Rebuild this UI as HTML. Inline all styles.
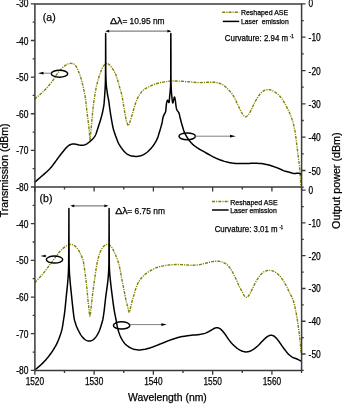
<!DOCTYPE html>
<html><head><meta charset="utf-8"><style>
html,body{margin:0;padding:0;background:#fff;}
body{width:342px;height:404px;overflow:hidden;font-family:"Liberation Sans",sans-serif;}
svg{display:block;will-change:transform;}
</style></head><body>
<svg width="342" height="404" viewBox="0 0 342 404">
<rect width="342" height="404" fill="#fff"/>
<g fill="none" stroke-linejoin="round">
<path d="M34.70 99.00L36.05 97.85L37.41 96.73L38.76 95.61L40.12 94.46L41.46 93.27L42.80 92.00L44.29 90.50L45.81 88.91L47.32 87.26L48.80 85.58L50.20 83.92L51.50 82.30L52.52 80.92L53.47 79.52L54.36 78.14L55.23 76.77L56.10 75.46L57.00 74.20L57.83 73.12L58.66 72.07L59.50 71.05L60.34 70.07L61.17 69.15L62.00 68.30L62.66 67.65L63.31 67.04L63.96 66.46L64.62 65.93L65.29 65.44L66.00 65.00L66.71 64.61L67.46 64.25L68.22 63.93L68.99 63.67L69.75 63.49L70.50 63.40L71.19 63.39L71.88 63.43L72.56 63.53L73.24 63.72L73.88 64.00L74.50 64.40L75.36 65.29L76.17 66.51L76.93 67.94L77.64 69.48L78.30 71.00L78.90 72.40L79.37 73.51L79.79 74.59L80.17 75.66L80.52 76.74L80.86 77.85L81.20 79.00L81.58 80.34L81.95 81.73L82.30 83.14L82.64 84.58L82.97 86.04L83.30 87.50L83.64 89.03L83.98 90.57L84.30 92.13L84.62 93.71L84.92 95.33L85.20 97.00L85.49 98.99L85.76 101.08L86.00 103.21L86.23 105.35L86.46 107.46L86.70 109.50L86.92 111.31L87.14 113.08L87.36 114.82L87.57 116.55L87.79 118.28L88.00 120.00L88.21 121.68L88.42 123.35L88.63 125.02L88.83 126.68L89.02 128.34L89.20 130.00L89.35 131.86L89.49 134.00L89.62 136.13L89.74 137.99L89.87 139.30L90.00 139.80L90.13 139.42L90.26 138.42L90.39 136.98L90.52 135.30L90.66 133.58L90.80 132.00L90.97 130.16L91.15 128.23L91.33 126.22L91.51 124.16L91.70 122.08L91.90 120.00L92.12 117.72L92.33 115.37L92.56 113.00L92.79 110.62L93.04 108.28L93.30 106.00L93.55 103.94L93.81 101.93L94.08 99.94L94.36 97.96L94.67 95.99L95.00 94.00L95.36 91.98L95.74 89.94L96.15 87.90L96.57 85.88L97.02 83.91L97.50 82.00L97.95 80.32L98.43 78.67L98.92 77.05L99.43 75.47L99.96 73.95L100.50 72.50L100.96 71.30L101.42 70.10L101.89 68.95L102.39 67.86L102.92 66.87L103.50 66.00L103.99 65.38L104.51 64.77L105.06 64.22L105.61 63.77L106.17 63.45L106.70 63.30L107.14 63.33L107.58 63.50L108.02 63.76L108.45 64.08L108.88 64.44L109.30 64.80L109.82 65.28L110.33 65.82L110.83 66.42L111.33 67.06L111.82 67.72L112.30 68.40L112.85 69.19L113.40 70.02L113.94 70.88L114.46 71.77L114.95 72.68L115.40 73.60L115.82 74.58L116.19 75.59L116.53 76.61L116.85 77.66L117.17 78.73L117.50 79.80L117.86 80.98L118.21 82.19L118.56 83.41L118.91 84.64L119.25 85.88L119.60 87.10L119.96 88.32L120.33 89.54L120.70 90.77L121.06 91.99L121.40 93.20L121.70 94.40L121.95 95.51L122.16 96.62L122.36 97.71L122.54 98.81L122.72 99.90L122.90 101.00L123.08 102.10L123.24 103.21L123.40 104.32L123.56 105.43L123.73 106.52L123.90 107.60L124.08 108.61L124.26 109.61L124.45 110.60L124.64 111.58L124.82 112.55L125.00 113.50L125.15 114.36L125.30 115.21L125.44 116.05L125.58 116.88L125.73 117.70L125.90 118.50L126.06 119.25L126.23 120.00L126.40 120.74L126.59 121.46L126.78 122.15L127.00 122.80L127.20 123.37L127.41 123.99L127.62 124.60L127.85 125.11L128.08 125.47L128.30 125.60L128.55 125.44L128.80 125.00L129.05 124.38L129.30 123.65L129.55 122.90L129.80 122.20L130.10 121.37L130.40 120.49L130.69 119.58L130.99 118.62L131.29 117.63L131.60 116.60L132.02 115.20L132.45 113.68L132.90 112.10L133.35 110.52L133.78 109.00L134.20 107.60L134.51 106.58L134.80 105.61L135.09 104.68L135.38 103.77L135.68 102.88L136.00 102.00L136.30 101.19L136.59 100.41L136.89 99.65L137.21 98.88L137.58 98.10L138.00 97.30L138.60 96.24L139.27 95.13L140.00 93.99L140.79 92.88L141.63 91.84L142.50 90.90L143.37 90.12L144.28 89.41L145.23 88.76L146.22 88.15L147.25 87.57L148.30 87.00L149.51 86.38L150.79 85.79L152.11 85.23L153.43 84.71L154.74 84.23L156.00 83.80L157.04 83.48L158.04 83.19L159.03 82.95L160.02 82.72L161.04 82.51L162.10 82.30L163.35 82.07L164.64 81.85L165.96 81.65L167.31 81.47L168.65 81.32L170.00 81.20L171.37 81.11L172.73 81.06L174.10 81.04L175.49 81.04L176.92 81.06L178.40 81.10L180.24 81.18L182.19 81.29L184.18 81.44L186.18 81.60L188.14 81.75L190.00 81.90L191.54 82.03L193.02 82.17L194.48 82.31L195.91 82.44L197.35 82.54L198.80 82.60L200.25 82.60L201.70 82.56L203.15 82.48L204.60 82.40L206.05 82.33L207.50 82.30L208.98 82.28L210.49 82.24L212.00 82.22L213.49 82.24L214.93 82.32L216.30 82.50L217.43 82.73L218.52 83.00L219.58 83.33L220.60 83.70L221.57 84.13L222.50 84.60L223.29 85.08L224.02 85.59L224.71 86.15L225.39 86.75L226.08 87.40L226.80 88.10L227.80 89.08L228.84 90.15L229.89 91.29L230.94 92.50L231.95 93.77L232.90 95.10L233.89 96.71L234.81 98.45L235.69 100.27L236.54 102.10L237.37 103.90L238.20 105.60L238.91 107.04L239.60 108.50L240.27 109.92L240.94 111.27L241.62 112.51L242.30 113.60L242.78 114.31L243.25 115.01L243.73 115.66L244.21 116.21L244.70 116.60L245.20 116.80L245.63 116.79L246.07 116.63L246.52 116.37L246.96 116.04L247.39 115.67L247.80 115.30L248.25 114.83L248.67 114.30L249.06 113.71L249.45 113.07L249.86 112.36L250.30 111.60L251.08 110.14L251.90 108.41L252.76 106.53L253.66 104.60L254.57 102.72L255.50 101.00L256.35 99.56L257.22 98.12L258.11 96.72L259.01 95.41L259.91 94.22L260.80 93.20L261.42 92.58L262.03 92.03L262.64 91.54L263.25 91.10L263.87 90.72L264.50 90.40L265.04 90.17L265.58 89.97L266.13 89.82L266.68 89.71L267.24 89.63L267.80 89.60L268.41 89.61L269.03 89.68L269.66 89.79L270.29 89.93L270.90 90.11L271.50 90.30L272.07 90.52L272.63 90.76L273.17 91.04L273.71 91.34L274.25 91.66L274.80 92.00L275.42 92.40L276.05 92.83L276.68 93.28L277.30 93.76L277.91 94.27L278.50 94.80L279.11 95.40L279.70 96.02L280.28 96.67L280.85 97.37L281.42 98.11L282.00 98.90L282.76 100.04L283.54 101.31L284.31 102.65L285.07 104.03L285.80 105.39L286.50 106.70L287.10 107.83L287.68 108.94L288.24 110.03L288.77 111.13L289.29 112.25L289.80 113.40L290.31 114.65L290.81 115.92L291.29 117.22L291.74 118.53L292.18 119.86L292.60 121.20L293.02 122.60L293.41 124.01L293.78 125.42L294.14 126.88L294.48 128.40L294.80 130.00L295.17 132.15L295.51 134.44L295.82 136.83L296.12 139.26L296.41 141.66L296.70 144.00L296.98 146.19L297.26 148.39L297.53 150.58L297.80 152.73L298.05 154.81L298.30 156.80L298.50 158.38L298.69 159.89L298.88 161.35L299.06 162.79L299.24 164.23L299.40 165.70L299.55 167.19L299.70 168.70L299.84 170.20L299.96 171.69L300.09 173.16L300.20 174.60L300.30 175.89L300.39 177.18L300.47 178.46L300.55 179.69L300.63 180.88L300.70 182.00L300.75 182.81L300.81 183.58L300.85 184.32L300.90 185.04L300.95 185.76L301.00 186.50" stroke="#808000" stroke-width="1.4" stroke-dasharray="3 1.1 1.1 1.1"/>
<path d="M34.70 282.60L36.05 281.17L37.41 279.76L38.76 278.35L40.11 276.92L41.46 275.44L42.80 273.90L44.30 272.07L45.82 270.11L47.34 268.10L48.82 266.11L50.22 264.22L51.50 262.50L52.34 261.37L53.11 260.31L53.85 259.31L54.56 258.33L55.27 257.37L56.00 256.40L56.72 255.46L57.43 254.51L58.15 253.58L58.86 252.67L59.58 251.81L60.30 251.00L60.91 250.36L61.53 249.75L62.15 249.17L62.76 248.62L63.38 248.10L64.00 247.60L64.54 247.17L65.08 246.76L65.61 246.38L66.16 246.02L66.72 245.69L67.30 245.40L67.92 245.13L68.57 244.88L69.23 244.66L69.90 244.50L70.56 244.41L71.20 244.40L71.82 244.49L72.44 244.66L73.06 244.90L73.66 245.19L74.24 245.53L74.80 245.90L75.37 246.35L75.92 246.87L76.45 247.43L76.95 248.04L77.43 248.66L77.90 249.30L78.37 249.99L78.80 250.70L79.22 251.44L79.62 252.21L80.01 252.99L80.40 253.80L80.85 254.72L81.30 255.67L81.74 256.64L82.16 257.65L82.55 258.70L82.90 259.80L83.26 261.20L83.56 262.68L83.81 264.22L84.04 265.80L84.27 267.40L84.50 269.00L84.76 270.73L85.00 272.49L85.24 274.27L85.46 276.06L85.69 277.84L85.90 279.60L86.10 281.27L86.29 282.92L86.48 284.57L86.66 286.21L86.83 287.85L87.00 289.50L87.16 291.15L87.31 292.82L87.45 294.48L87.60 296.13L87.74 297.77L87.90 299.40L88.06 300.95L88.22 302.49L88.39 304.02L88.56 305.54L88.73 307.03L88.90 308.50L89.06 310.00L89.22 311.68L89.39 313.35L89.56 314.80L89.73 315.81L89.90 316.20L90.08 315.82L90.27 314.80L90.45 313.35L90.64 311.69L90.83 310.00L91.00 308.50L91.18 307.03L91.34 305.54L91.50 304.02L91.66 302.49L91.83 300.95L92.00 299.40L92.19 297.77L92.38 296.13L92.58 294.47L92.78 292.81L92.99 291.15L93.20 289.50L93.42 287.85L93.65 286.20L93.89 284.56L94.13 282.91L94.37 281.26L94.60 279.60L94.83 277.92L95.05 276.23L95.27 274.54L95.50 272.85L95.74 271.17L96.00 269.50L96.27 267.86L96.54 266.21L96.82 264.56L97.12 262.94L97.44 261.35L97.80 259.80L98.14 258.43L98.49 257.07L98.86 255.74L99.26 254.45L99.70 253.20L100.20 252.00L100.69 250.93L101.22 249.87L101.79 248.84L102.39 247.88L103.02 247.02L103.70 246.30L104.27 245.81L104.88 245.36L105.52 244.97L106.16 244.67L106.79 244.48L107.40 244.40L107.94 244.45L108.48 244.60L109.01 244.84L109.52 245.15L110.02 245.50L110.50 245.90L111.07 246.48L111.60 247.19L112.10 247.97L112.58 248.81L113.05 249.66L113.50 250.50L113.96 251.38L114.40 252.29L114.82 253.22L115.23 254.16L115.62 255.09L116.00 256.00L116.34 256.83L116.67 257.63L116.99 258.43L117.30 259.24L117.60 260.09L117.90 261.00L118.27 262.21L118.64 263.48L118.99 264.80L119.34 266.17L119.68 267.57L120.00 269.00L120.35 270.68L120.67 272.43L120.97 274.23L121.27 276.04L121.58 277.84L121.90 279.60L122.23 281.27L122.56 282.93L122.90 284.57L123.23 286.21L123.57 287.85L123.90 289.50L124.22 291.17L124.53 292.86L124.84 294.56L125.15 296.23L125.47 297.85L125.80 299.40L126.09 300.66L126.38 301.89L126.68 303.07L126.99 304.23L127.29 305.37L127.60 306.50L127.88 307.64L128.17 308.91L128.46 310.17L128.75 311.25L129.03 312.01L129.30 312.30L129.53 312.06L129.75 311.43L129.97 310.53L130.18 309.50L130.39 308.44L130.60 307.50L130.83 306.54L131.06 305.55L131.28 304.54L131.51 303.53L131.75 302.51L132.00 301.50L132.28 300.48L132.57 299.47L132.88 298.45L133.19 297.43L133.50 296.42L133.80 295.40L134.10 294.38L134.39 293.35L134.68 292.33L134.97 291.30L135.28 290.29L135.60 289.30L135.92 288.35L136.24 287.41L136.57 286.48L136.92 285.57L137.30 284.67L137.70 283.80L138.11 282.99L138.55 282.19L139.01 281.41L139.49 280.65L139.99 279.91L140.50 279.20L141.00 278.55L141.52 277.92L142.05 277.31L142.59 276.72L143.14 276.15L143.70 275.60L144.23 275.09L144.77 274.60L145.31 274.12L145.87 273.66L146.43 273.22L147.00 272.80L147.55 272.42L148.10 272.06L148.66 271.73L149.23 271.40L149.84 271.06L150.50 270.70L151.45 270.18L152.48 269.62L153.57 269.05L154.70 268.48L155.85 267.96L157.00 267.50L158.21 267.09L159.46 266.72L160.73 266.39L162.00 266.10L163.27 265.84L164.50 265.60L165.60 265.41L166.69 265.25L167.77 265.11L168.84 265.00L169.92 264.89L171.00 264.80L172.10 264.71L173.20 264.64L174.30 264.58L175.40 264.54L176.51 264.51L177.60 264.50L178.67 264.51L179.73 264.55L180.79 264.61L181.86 264.67L182.92 264.74L184.00 264.80L185.12 264.87L186.23 264.95L187.36 265.04L188.49 265.12L189.63 265.18L190.80 265.20L192.08 265.20L193.39 265.18L194.72 265.14L196.05 265.07L197.38 264.96L198.70 264.80L200.04 264.58L201.38 264.30L202.73 263.98L204.06 263.64L205.35 263.30L206.60 263.00L207.64 262.75L208.64 262.49L209.61 262.23L210.58 261.99L211.53 261.77L212.50 261.60L213.43 261.46L214.36 261.34L215.30 261.25L216.22 261.18L217.12 261.17L218.00 261.20L218.78 261.28L219.55 261.39L220.30 261.55L221.05 261.73L221.78 261.95L222.50 262.20L223.23 262.48L223.96 262.80L224.68 263.14L225.38 263.52L226.06 263.94L226.70 264.40L227.31 264.91L227.89 265.46L228.44 266.06L228.98 266.68L229.49 267.33L230.00 268.00L230.54 268.76L231.05 269.56L231.55 270.39L232.04 271.25L232.52 272.12L233.00 273.00L233.52 273.96L234.02 274.94L234.53 275.94L235.02 276.95L235.51 277.97L236.00 279.00L236.49 280.07L236.97 281.15L237.44 282.24L237.91 283.34L238.40 284.42L238.90 285.50L239.43 286.58L239.99 287.66L240.56 288.74L241.13 289.80L241.68 290.83L242.20 291.80L242.60 292.58L242.97 293.36L243.33 294.12L243.70 294.83L244.08 295.46L244.50 296.00L244.83 296.35L245.17 296.69L245.53 296.99L245.88 297.22L246.24 297.37L246.60 297.40L247.02 297.27L247.44 296.99L247.86 296.58L248.27 296.09L248.69 295.55L249.10 295.00L249.69 294.12L250.26 293.09L250.83 291.96L251.40 290.78L251.95 289.61L252.50 288.50L253.01 287.48L253.51 286.45L254.01 285.43L254.50 284.43L255.00 283.45L255.50 282.50L255.96 281.67L256.41 280.86L256.86 280.06L257.33 279.29L257.80 278.53L258.30 277.80L258.79 277.12L259.29 276.44L259.81 275.78L260.34 275.15L260.87 274.56L261.40 274.00L261.85 273.55L262.30 273.13L262.75 272.72L263.21 272.35L263.69 272.01L264.20 271.70L264.74 271.42L265.31 271.17L265.90 270.95L266.50 270.77L267.11 270.62L267.70 270.50L268.26 270.42L268.82 270.37L269.39 270.34L269.95 270.36L270.52 270.41L271.10 270.50L271.77 270.66L272.46 270.88L273.15 271.15L273.85 271.47L274.53 271.82L275.20 272.20L275.93 272.66L276.65 273.18L277.37 273.73L278.07 274.33L278.75 274.95L279.40 275.60L280.05 276.31L280.67 277.06L281.27 277.84L281.86 278.64L282.43 279.46L283.00 280.30L283.60 281.20L284.18 282.12L284.76 283.07L285.32 284.03L285.87 285.01L286.40 286.00L286.93 287.05L287.43 288.13L287.92 289.22L288.40 290.32L288.89 291.41L289.40 292.50L289.95 293.58L290.52 294.64L291.11 295.69L291.68 296.76L292.22 297.86L292.70 299.00L293.15 300.26L293.55 301.57L293.91 302.90L294.25 304.25L294.58 305.62L294.90 307.00L295.24 308.46L295.55 309.95L295.86 311.46L296.15 312.98L296.43 314.49L296.70 316.00L296.96 317.49L297.20 318.98L297.43 320.47L297.66 321.96L297.88 323.47L298.10 325.00L298.33 326.65L298.56 328.33L298.78 330.04L299.00 331.73L299.20 333.39L299.40 335.00L299.57 336.39L299.73 337.74L299.88 339.07L300.03 340.39L300.17 341.69L300.30 343.00L300.42 344.29L300.52 345.63L300.62 346.95L300.72 348.22L300.81 349.39L300.90 350.40L300.95 350.91L301.00 351.37L301.05 351.78L301.10 352.18L301.15 352.58L301.20 353.00" stroke="#808000" stroke-width="1.4" stroke-dasharray="3 1.1 1.1 1.1"/>
<path d="M34.70 182.30L35.25 181.81L35.81 181.33L36.36 180.84L36.91 180.35L37.46 179.87L38.00 179.40L38.50 178.96L38.99 178.54L39.47 178.13L39.96 177.71L40.46 177.27L41.00 176.80L41.72 176.18L42.49 175.52L43.29 174.83L44.10 174.13L44.91 173.42L45.70 172.70L46.50 171.97L47.29 171.23L48.08 170.48L48.87 169.71L49.64 168.92L50.40 168.10L51.19 167.18L51.97 166.22L52.73 165.23L53.49 164.23L54.24 163.21L55.00 162.20L55.78 161.15L56.57 160.08L57.34 159.00L58.13 157.92L58.91 156.85L59.70 155.80L60.49 154.77L61.30 153.73L62.12 152.69L62.92 151.69L63.69 150.75L64.40 149.90L64.87 149.34L65.31 148.82L65.74 148.32L66.15 147.86L66.57 147.42L67.00 147.00L67.38 146.65L67.75 146.33L68.12 146.02L68.50 145.72L68.89 145.45L69.30 145.20L69.73 144.96L70.17 144.74L70.62 144.54L71.09 144.36L71.55 144.22L72.00 144.10L72.41 144.02L72.83 143.98L73.24 143.96L73.65 143.95L74.07 143.97L74.50 144.00L74.97 144.06L75.46 144.14L75.95 144.25L76.44 144.37L76.92 144.49L77.40 144.60L77.84 144.70L78.28 144.82L78.71 144.93L79.14 145.04L79.57 145.13L80.00 145.20L80.43 145.25L80.86 145.30L81.29 145.33L81.73 145.35L82.16 145.34L82.60 145.30L83.08 145.23L83.57 145.13L84.07 145.00L84.56 144.86L85.04 144.69L85.50 144.50L85.94 144.30L86.36 144.07L86.77 143.83L87.17 143.57L87.58 143.29L88.00 143.00L88.50 142.64L89.00 142.26L89.52 141.86L90.02 141.44L90.52 141.02L91.00 140.60L91.44 140.20L91.88 139.80L92.31 139.40L92.72 138.98L93.12 138.55L93.50 138.10L93.87 137.63L94.22 137.14L94.56 136.65L94.89 136.13L95.20 135.58L95.50 135.00L95.84 134.25L96.16 133.44L96.45 132.59L96.74 131.72L97.02 130.85L97.30 130.00L97.58 129.17L97.85 128.34L98.11 127.50L98.37 126.67L98.64 125.83L98.90 125.00L99.17 124.17L99.44 123.33L99.71 122.50L99.98 121.67L100.24 120.83L100.50 120.00L100.75 119.17L100.99 118.34L101.23 117.50L101.46 116.67L101.69 115.84L101.90 115.00L102.10 114.17L102.30 113.34L102.48 112.50L102.66 111.67L102.83 110.83L103.00 110.00L103.17 109.18L103.33 108.37L103.48 107.56L103.63 106.73L103.77 105.88L103.90 105.00L104.03 103.90L104.14 102.74L104.24 101.54L104.33 100.34L104.42 99.15L104.50 98.00L104.58 96.98L104.65 95.98L104.71 95.00L104.77 94.02L104.84 93.02L104.90 92.00L104.97 90.88L105.04 89.75L105.12 88.61L105.18 87.45L105.25 86.25L105.30 85.00L105.35 83.48L105.39 81.93L105.43 80.33L105.45 78.65L105.48 76.89L105.50 75.00L105.53 72.07L105.55 68.87L105.57 65.47L105.58 61.97L105.59 58.45L105.60 55.00L105.61 50.98L105.62 46.34L105.63 41.67L105.63 37.59L105.64 34.70L105.65 33.60L105.66 34.70L105.68 37.59L105.70 41.67L105.71 46.34L105.73 50.98L105.75 55.00L105.76 58.45L105.76 61.97L105.76 65.47L105.77 68.87L105.80 72.07L105.85 75.00L105.90 76.91L105.96 78.72L106.03 80.43L106.10 82.05L106.19 83.57L106.30 85.00L106.39 85.93L106.48 86.80L106.58 87.61L106.68 88.40L106.79 89.19L106.90 90.00L107.01 90.83L107.12 91.67L107.23 92.50L107.34 93.34L107.47 94.17L107.60 95.00L107.75 95.82L107.92 96.63L108.09 97.44L108.27 98.26L108.44 99.11L108.60 100.00L108.78 101.15L108.95 102.36L109.11 103.60L109.27 104.88L109.43 106.15L109.60 107.40L109.78 108.65L109.95 109.90L110.13 111.15L110.31 112.40L110.50 113.65L110.70 114.90L110.91 116.15L111.12 117.41L111.34 118.67L111.56 119.91L111.78 121.12L112.00 122.30L112.18 123.30L112.36 124.29L112.53 125.25L112.71 126.19L112.89 127.10L113.10 128.00L113.29 128.76L113.49 129.49L113.70 130.20L113.92 130.91L114.15 131.64L114.40 132.40L114.72 133.37L115.08 134.38L115.45 135.42L115.83 136.47L116.22 137.50L116.60 138.50L116.95 139.41L117.28 140.31L117.62 141.19L117.98 142.07L118.37 142.94L118.80 143.80L119.31 144.71L119.86 145.63L120.45 146.53L121.06 147.42L121.68 148.28L122.30 149.10L122.85 149.82L123.41 150.51L123.97 151.18L124.55 151.83L125.16 152.43L125.80 153.00L126.48 153.53L127.21 154.03L127.96 154.51L128.73 154.93L129.48 155.30L130.20 155.60L130.76 155.78L131.31 155.91L131.86 156.01L132.40 156.08L132.95 156.14L133.50 156.20L134.07 156.27L134.64 156.33L135.22 156.38L135.80 156.42L136.39 156.43L137.00 156.40L137.71 156.33L138.44 156.24L139.18 156.10L139.93 155.94L140.67 155.74L141.40 155.50L142.16 155.21L142.91 154.87L143.66 154.49L144.40 154.08L145.11 153.65L145.80 153.20L146.43 152.75L147.03 152.28L147.61 151.79L148.18 151.28L148.74 150.75L149.30 150.20L149.91 149.58L150.51 148.93L151.11 148.26L151.70 147.57L152.26 146.89L152.80 146.20L153.28 145.56L153.73 144.92L154.17 144.28L154.59 143.63L155.00 142.97L155.40 142.30L155.80 141.60L156.19 140.88L156.57 140.16L156.93 139.42L157.28 138.67L157.60 137.90L157.91 137.07L158.19 136.22L158.46 135.35L158.71 134.48L158.95 133.63L159.20 132.80L159.42 132.09L159.64 131.40L159.86 130.73L160.07 130.05L160.28 129.34L160.50 128.60L160.77 127.64L161.05 126.63L161.34 125.59L161.61 124.54L161.87 123.50L162.10 122.50L162.27 121.63L162.41 120.75L162.54 119.89L162.67 119.05L162.82 118.25L163.00 117.50L163.17 116.93L163.36 116.39L163.56 115.87L163.77 115.37L163.98 114.88L164.20 114.40L164.41 113.99L164.65 113.61L164.88 113.24L165.11 112.87L165.32 112.46L165.50 112.00L165.68 111.28L165.80 110.48L165.88 109.62L165.94 108.74L166.01 107.86L166.10 107.00L166.20 106.14L166.30 105.24L166.40 104.34L166.51 103.47L166.64 102.68L166.80 102.00L166.92 101.60L167.05 101.19L167.18 100.81L167.32 100.50L167.46 100.28L167.60 100.20L167.72 100.27L167.83 100.47L167.95 100.74L168.07 101.05L168.18 101.35L168.30 101.60L168.40 101.80L168.51 102.03L168.61 102.25L168.71 102.44L168.81 102.56L168.90 102.60L169.09 102.25L169.24 101.40L169.36 100.20L169.47 98.79L169.58 97.34L169.70 96.00L169.87 94.39L170.03 92.74L170.20 91.02L170.35 89.17L170.49 87.18L170.60 85.00L170.72 80.80L170.77 75.91L170.78 70.61L170.76 65.17L170.75 59.88L170.75 55.00L170.77 50.73L170.79 46.01L170.80 41.40L170.82 37.43L170.83 34.65L170.85 33.60L170.87 34.65L170.88 37.43L170.90 41.40L170.91 46.01L170.93 50.73L170.95 55.00L170.96 59.88L170.95 65.17L170.94 70.61L170.96 75.91L171.00 80.80L171.10 85.00L171.18 87.18L171.28 89.16L171.38 91.00L171.50 92.72L171.64 94.37L171.80 96.00L171.94 97.42L172.10 98.97L172.26 100.47L172.43 101.75L172.61 102.65L172.80 103.00L172.93 102.85L173.06 102.45L173.19 101.88L173.32 101.22L173.46 100.57L173.60 100.00L173.75 99.43L173.90 98.77L174.05 98.12L174.20 97.55L174.36 97.15L174.50 97.00L174.66 97.20L174.82 97.73L174.98 98.48L175.13 99.34L175.27 100.22L175.40 101.00L175.52 101.79L175.62 102.61L175.70 103.45L175.78 104.29L175.88 105.11L176.00 105.90L176.12 106.60L176.23 107.30L176.35 107.98L176.49 108.64L176.67 109.29L176.90 109.90L177.18 110.43L177.52 110.93L177.89 111.40L178.27 111.88L178.61 112.37L178.90 112.90L179.13 113.50L179.31 114.11L179.46 114.75L179.60 115.41L179.74 116.09L179.90 116.80L180.13 117.73L180.37 118.73L180.62 119.76L180.88 120.80L181.14 121.82L181.40 122.80L181.64 123.65L181.89 124.48L182.14 125.29L182.39 126.09L182.65 126.90L182.90 127.70L183.14 128.49L183.36 129.27L183.58 130.05L183.82 130.83L184.09 131.62L184.40 132.40L184.79 133.26L185.23 134.13L185.69 134.99L186.20 135.86L186.73 136.73L187.30 137.60L187.99 138.61L188.73 139.65L189.51 140.70L190.32 141.72L191.15 142.70L192.00 143.60L192.79 144.36L193.60 145.07L194.43 145.73L195.27 146.37L196.13 146.99L197.00 147.60L197.89 148.19L198.79 148.76L199.72 149.30L200.65 149.84L201.58 150.37L202.50 150.90L203.42 151.43L204.34 151.95L205.26 152.47L206.18 152.99L207.09 153.50L208.00 154.00L208.86 154.48L209.70 154.96L210.55 155.43L211.39 155.90L212.24 156.35L213.10 156.80L213.99 157.24L214.88 157.68L215.79 158.11L216.69 158.53L217.60 158.92L218.50 159.30L219.35 159.64L220.20 159.96L221.04 160.26L221.89 160.55L222.74 160.83L223.60 161.10L224.49 161.37L225.39 161.62L226.29 161.86L227.20 162.09L228.10 162.31L229.00 162.50L229.85 162.67L230.69 162.82L231.53 162.96L232.37 163.09L233.23 163.20L234.10 163.30L235.05 163.39L236.03 163.46L237.01 163.51L238.00 163.55L239.00 163.58L240.00 163.60L241.03 163.61L242.05 163.60L243.07 163.58L244.11 163.55L245.19 163.53L246.30 163.50L247.70 163.47L249.17 163.42L250.68 163.37L252.20 163.33L253.69 163.30L255.10 163.30L256.29 163.32L257.48 163.34L258.63 163.38L259.75 163.43L260.81 163.50L261.80 163.60L262.49 163.69L263.13 163.80L263.75 163.93L264.34 164.05L264.92 164.18L265.50 164.30L266.01 164.40L266.51 164.49L266.99 164.57L267.48 164.67L267.98 164.77L268.50 164.90L269.14 165.07L269.80 165.27L270.47 165.48L271.16 165.71L271.87 165.95L272.60 166.20L273.54 166.53L274.54 166.88L275.57 167.24L276.61 167.63L277.63 168.01L278.60 168.40L279.44 168.76L280.25 169.14L281.05 169.53L281.84 169.90L282.66 170.27L283.50 170.60L284.45 170.93L285.43 171.23L286.43 171.52L287.44 171.79L288.43 172.05L289.40 172.30L290.28 172.54L291.15 172.79L292.02 173.03L292.87 173.24L293.70 173.40L294.50 173.50L295.15 173.51L295.79 173.44L296.41 173.35L297.02 173.25L297.61 173.19L298.20 173.20L298.72 173.27L299.23 173.39L299.72 173.54L300.21 173.70L300.70 173.85L301.20 174.00" stroke="#000" stroke-width="1.5"/>
<path d="M34.70 370.10L35.42 369.50L36.14 368.91L36.85 368.32L37.57 367.73L38.29 367.12L39.00 366.50L39.74 365.85L40.47 365.19L41.21 364.52L41.94 363.83L42.67 363.13L43.40 362.40L44.18 361.59L44.95 360.76L45.72 359.90L46.48 359.03L47.24 358.13L48.00 357.20L48.82 356.16L49.65 355.08L50.47 353.97L51.27 352.84L52.06 351.72L52.80 350.60L53.47 349.56L54.12 348.52L54.75 347.48L55.36 346.44L55.94 345.38L56.50 344.30L57.04 343.20L57.55 342.08L58.04 340.96L58.51 339.82L58.96 338.67L59.40 337.50L59.84 336.29L60.27 335.09L60.69 333.87L61.08 332.62L61.45 331.34L61.80 330.00L62.17 328.34L62.50 326.58L62.80 324.76L63.08 322.94L63.34 321.17L63.60 319.50L63.81 318.21L64.00 317.00L64.18 315.83L64.35 314.64L64.52 313.38L64.70 312.00L64.95 309.82L65.20 307.44L65.45 304.92L65.70 302.32L65.95 299.73L66.20 297.20L66.46 294.70L66.72 292.18L66.99 289.67L67.25 287.16L67.49 284.70L67.70 282.30L67.87 280.22L68.03 278.22L68.17 276.26L68.29 274.28L68.40 272.21L68.50 270.00L68.59 266.97L68.65 263.78L68.69 260.44L68.71 257.01L68.73 253.52L68.75 250.00L68.78 245.93L68.80 241.68L68.81 237.35L68.83 233.05L68.84 228.90L68.85 225.00L68.86 221.69L68.87 218.06L68.88 214.53L68.88 211.51L68.89 209.40L68.90 208.60L68.91 209.40L68.92 211.51L68.92 214.53L68.93 218.06L68.94 221.69L68.95 225.00L68.96 228.90L68.97 233.05L68.99 237.35L69.00 241.68L69.02 245.93L69.05 250.00L69.07 253.52L69.08 257.01L69.10 260.44L69.14 263.78L69.20 266.97L69.30 270.00L69.41 272.21L69.54 274.28L69.68 276.26L69.84 278.22L70.02 280.22L70.20 282.30L70.42 284.70L70.66 287.16L70.91 289.67L71.17 292.19L71.44 294.70L71.70 297.20L71.96 299.73L72.23 302.32L72.50 304.92L72.77 307.44L73.04 309.82L73.30 312.00L73.47 313.40L73.63 314.70L73.78 315.93L73.95 317.12L74.15 318.30L74.40 319.50L74.69 320.70L75.03 321.90L75.39 323.09L75.77 324.26L76.18 325.40L76.60 326.50L77.00 327.47L77.41 328.42L77.84 329.35L78.28 330.25L78.74 331.13L79.20 332.00L79.64 332.80L80.09 333.59L80.54 334.36L81.01 335.11L81.50 335.83L82.00 336.50L82.47 337.07L82.95 337.62L83.44 338.15L83.95 338.64L84.47 339.09L85.00 339.50L85.49 339.84L86.00 340.15L86.52 340.43L87.05 340.67L87.58 340.87L88.10 341.00L88.58 341.07L89.07 341.09L89.56 341.07L90.05 341.02L90.53 340.93L91.00 340.80L91.49 340.63L91.97 340.41L92.44 340.16L92.91 339.87L93.36 339.55L93.80 339.20L94.29 338.76L94.75 338.27L95.21 337.74L95.65 337.18L96.08 336.60L96.50 336.00L96.95 335.32L97.39 334.61L97.81 333.88L98.22 333.11L98.62 332.32L99.00 331.50L99.43 330.49L99.84 329.42L100.23 328.31L100.61 327.18L100.96 326.07L101.30 325.00L101.59 324.07L101.86 323.17L102.11 322.28L102.35 321.39L102.58 320.47L102.80 319.50L103.03 318.35L103.24 317.19L103.43 315.99L103.62 314.74L103.81 313.41L104.00 312.00L104.28 309.82L104.55 307.44L104.83 304.92L105.11 302.32L105.40 299.73L105.70 297.20L106.03 294.70L106.38 292.18L106.74 289.67L107.09 287.16L107.42 284.70L107.70 282.30L107.92 280.22L108.12 278.23L108.29 276.27L108.45 274.28L108.58 272.21L108.70 270.00L108.81 266.97L108.87 263.78L108.91 260.44L108.92 257.01L108.93 253.52L108.95 250.00L108.98 245.93L109.00 241.68L109.01 237.35L109.03 233.05L109.04 228.90L109.05 225.00L109.06 221.69L109.07 218.06L109.08 214.53L109.08 211.51L109.09 209.40L109.10 208.60L109.11 209.40L109.12 211.51L109.12 214.53L109.13 218.06L109.14 221.69L109.15 225.00L109.16 228.90L109.17 233.05L109.19 237.35L109.20 241.68L109.22 245.93L109.25 250.00L109.27 253.52L109.27 257.01L109.29 260.44L109.32 263.78L109.38 266.97L109.50 270.00L109.63 272.21L109.79 274.28L109.97 276.27L110.17 278.23L110.38 280.22L110.60 282.30L110.86 284.72L111.15 287.23L111.46 289.77L111.78 292.31L112.09 294.80L112.40 297.20L112.66 299.26L112.91 301.26L113.17 303.23L113.43 305.17L113.70 307.09L114.00 309.00L114.31 310.79L114.63 312.57L114.97 314.32L115.32 316.06L115.66 317.79L116.00 319.50L116.30 321.12L116.59 322.73L116.88 324.33L117.18 325.91L117.52 327.47L117.90 329.00L118.31 330.45L118.74 331.89L119.20 333.31L119.70 334.69L120.23 336.03L120.80 337.30L121.34 338.39L121.91 339.44L122.51 340.45L123.14 341.42L123.80 342.34L124.50 343.20L125.18 343.94L125.90 344.64L126.64 345.29L127.41 345.91L128.20 346.47L129.00 347.00L129.79 347.47L130.61 347.89L131.44 348.28L132.29 348.63L133.14 348.94L134.00 349.20L134.85 349.42L135.70 349.59L136.56 349.72L137.43 349.82L138.31 349.88L139.20 349.90L140.15 349.88L141.11 349.81L142.08 349.70L143.06 349.55L144.03 349.38L145.00 349.20L145.99 348.99L146.98 348.75L147.97 348.49L148.95 348.21L149.93 347.91L150.90 347.60L151.84 347.28L152.78 346.95L153.70 346.59L154.63 346.23L155.56 345.87L156.50 345.50L157.51 345.11L158.53 344.71L159.56 344.31L160.59 343.90L161.60 343.50L162.60 343.10L163.51 342.73L164.41 342.36L165.29 341.99L166.18 341.62L167.08 341.26L168.00 340.90L169.02 340.52L170.07 340.14L171.13 339.76L172.20 339.40L173.26 339.04L174.30 338.70L175.26 338.39L176.21 338.08L177.15 337.78L178.09 337.50L179.04 337.24L180.00 337.00L180.99 336.79L181.98 336.61L182.98 336.44L183.99 336.29L185.00 336.15L186.00 336.00L187.01 335.85L188.02 335.70L189.03 335.56L190.04 335.43L191.03 335.31L192.00 335.20L192.85 335.12L193.67 335.06L194.48 335.02L195.29 334.96L196.13 334.90L197.00 334.80L198.12 334.66L199.33 334.49L200.56 334.31L201.78 334.10L202.94 333.86L204.00 333.60L204.74 333.37L205.44 333.13L206.10 332.87L206.74 332.59L207.37 332.30L208.00 332.00L208.61 331.69L209.20 331.36L209.79 331.02L210.37 330.67L210.94 330.33L211.50 330.00L212.01 329.70L212.52 329.38L213.01 329.07L213.51 328.78L214.00 328.52L214.50 328.30L214.95 328.13L215.40 327.98L215.86 327.85L216.31 327.76L216.76 327.70L217.20 327.70L217.64 327.75L218.08 327.85L218.52 327.99L218.95 328.16L219.38 328.37L219.80 328.60L220.27 328.91L220.73 329.26L221.17 329.66L221.62 330.09L222.06 330.54L222.50 331.00L223.01 331.56L223.51 332.17L224.01 332.80L224.51 333.46L225.01 334.13L225.50 334.80L226.02 335.54L226.53 336.31L227.04 337.09L227.55 337.87L228.06 338.65L228.60 339.40L229.14 340.13L229.69 340.85L230.26 341.56L230.83 342.26L231.41 342.94L232.00 343.60L232.58 344.21L233.17 344.80L233.77 345.38L234.38 345.94L234.99 346.48L235.60 347.00L236.16 347.46L236.72 347.91L237.28 348.34L237.84 348.75L238.41 349.13L239.00 349.50L239.58 349.84L240.18 350.16L240.79 350.46L241.40 350.73L242.00 350.98L242.60 351.20L243.12 351.37L243.64 351.53L244.16 351.66L244.68 351.77L245.19 351.85L245.70 351.90L246.19 351.91L246.68 351.90L247.16 351.86L247.65 351.79L248.13 351.71L248.60 351.60L249.07 351.47L249.54 351.32L250.00 351.15L250.46 350.95L250.92 350.74L251.40 350.50L251.98 350.19L252.58 349.84L253.18 349.47L253.79 349.07L254.40 348.64L255.00 348.20L255.67 347.68L256.34 347.13L257.01 346.54L257.68 345.94L258.34 345.32L259.00 344.70L259.68 344.02L260.35 343.32L261.02 342.60L261.68 341.87L262.34 341.17L263.00 340.50L263.61 339.90L264.22 339.30L264.84 338.72L265.44 338.17L266.03 337.66L266.60 337.20L267.01 336.89L267.41 336.59L267.81 336.33L268.20 336.09L268.59 335.88L269.00 335.70L269.39 335.57L269.79 335.46L270.19 335.37L270.60 335.32L271.00 335.29L271.40 335.30L271.81 335.34L272.21 335.41L272.62 335.51L273.02 335.65L273.42 335.81L273.80 336.00L274.20 336.25L274.59 336.54L274.97 336.87L275.34 337.23L275.72 337.61L276.10 338.00L276.58 338.51L277.07 339.07L277.56 339.65L278.05 340.26L278.53 340.88L279.00 341.50L279.47 342.15L279.93 342.82L280.38 343.50L280.84 344.19L281.31 344.89L281.80 345.60L282.38 346.41L282.98 347.25L283.59 348.10L284.22 348.95L284.86 349.79L285.50 350.60L286.13 351.38L286.77 352.16L287.41 352.93L288.07 353.67L288.73 354.37L289.40 355.00L289.98 355.50L290.57 355.96L291.16 356.39L291.76 356.78L292.37 357.15L293.00 357.50L293.64 357.80L294.30 358.05L294.97 358.27L295.65 358.49L296.33 358.73L297.00 359.00L297.70 359.33L298.40 359.69L299.10 360.06L299.80 360.44L300.50 360.83L301.20 361.20" stroke="#000" stroke-width="1.5"/>
</g>
<g fill="none" stroke="#3a3a3a" stroke-width="1.5">
<path d="M34.9 3.9H301.6V370.4H34.9Z"/>
<path d="M34.9 187.0H301.6"/>
</g>
<path d="M30.85 3.90L34.85 3.90M32.65 22.21L34.85 22.21M32.65 205.34L34.85 205.34M30.85 40.52L34.85 40.52M30.85 223.68L34.85 223.68M32.65 58.83L34.85 58.83M32.65 242.02L34.85 242.02M30.85 77.14L34.85 77.14M30.85 260.36L34.85 260.36M32.65 95.45L34.85 95.45M32.65 278.70L34.85 278.70M30.85 113.76L34.85 113.76M30.85 297.04L34.85 297.04M32.65 132.07L34.85 132.07M32.65 315.38L34.85 315.38M30.85 150.38L34.85 150.38M30.85 333.72L34.85 333.72M32.65 168.69L34.85 168.69M32.65 352.06L34.85 352.06M30.85 187.00L34.85 187.00M30.85 370.40L34.85 370.40M301.55 3.90L305.55 3.90M301.55 190.20L305.55 190.20M301.55 20.56L303.75 20.56M301.55 206.58L303.75 206.58M301.55 37.22L305.55 37.22M301.55 222.96L305.55 222.96M301.55 53.88L303.75 53.88M301.55 239.34L303.75 239.34M301.55 70.54L305.55 70.54M301.55 255.72L305.55 255.72M301.55 87.20L303.75 87.20M301.55 272.10L303.75 272.10M301.55 103.86L305.55 103.86M301.55 288.48L305.55 288.48M301.55 120.52L303.75 120.52M301.55 304.86L303.75 304.86M301.55 137.18L305.55 137.18M301.55 321.24L305.55 321.24M301.55 153.84L303.75 153.84M301.55 337.62L303.75 337.62M301.55 170.50L305.55 170.50M301.55 354.00L305.55 354.00M301.55 187.16L303.75 187.16M301.55 370.38L303.75 370.38M34.85 187.00L34.85 191.40M34.85 370.40L34.85 374.80M64.48 187.00L64.48 189.60M64.48 370.40L64.48 373.00M94.12 187.00L94.12 191.40M94.12 370.40L94.12 374.80M123.75 187.00L123.75 189.60M123.75 370.40L123.75 373.00M153.38 187.00L153.38 191.40M153.38 370.40L153.38 374.80M183.02 187.00L183.02 189.60M183.02 370.40L183.02 373.00M212.65 187.00L212.65 191.40M212.65 370.40L212.65 374.80M242.28 187.00L242.28 189.60M242.28 370.40L242.28 373.00M271.92 187.00L271.92 191.40M271.92 370.40L271.92 374.80M301.55 187.00L301.55 189.60M301.55 370.40L301.55 373.00" stroke="#3a3a3a" stroke-width="1.3" fill="none"/>
<g font-family="Liberation Sans, sans-serif" fill="#000" stroke="#000" stroke-width="0.25">
<text x="28.40" y="6.90" font-size="10.00" text-anchor="end" textLength="12.20" lengthAdjust="spacingAndGlyphs" >-30</text>
<text x="28.40" y="44.52" font-size="10.00" text-anchor="end" textLength="12.20" lengthAdjust="spacingAndGlyphs" >-40</text>
<text x="28.40" y="81.14" font-size="10.00" text-anchor="end" textLength="12.20" lengthAdjust="spacingAndGlyphs" >-50</text>
<text x="28.40" y="117.76" font-size="10.00" text-anchor="end" textLength="12.20" lengthAdjust="spacingAndGlyphs" >-60</text>
<text x="28.40" y="154.38" font-size="10.00" text-anchor="end" textLength="12.20" lengthAdjust="spacingAndGlyphs" >-70</text>
<text x="28.40" y="191.00" font-size="10.00" text-anchor="end" textLength="12.20" lengthAdjust="spacingAndGlyphs" >-80</text>
<text x="28.40" y="227.68" font-size="10.00" text-anchor="end" textLength="12.20" lengthAdjust="spacingAndGlyphs" >-40</text>
<text x="28.40" y="264.36" font-size="10.00" text-anchor="end" textLength="12.20" lengthAdjust="spacingAndGlyphs" >-50</text>
<text x="28.40" y="301.04" font-size="10.00" text-anchor="end" textLength="12.20" lengthAdjust="spacingAndGlyphs" >-60</text>
<text x="28.40" y="337.72" font-size="10.00" text-anchor="end" textLength="12.20" lengthAdjust="spacingAndGlyphs" >-70</text>
<text x="28.40" y="374.40" font-size="10.00" text-anchor="end" textLength="12.20" lengthAdjust="spacingAndGlyphs" >-80</text>
<text x="308.60" y="6.90" font-size="10.00" text-anchor="start" textLength="4.60" lengthAdjust="spacingAndGlyphs" >0</text>
<text x="308.60" y="194.20" font-size="10.00" text-anchor="start" textLength="4.60" lengthAdjust="spacingAndGlyphs" >0</text>
<text x="308.60" y="41.22" font-size="10.00" text-anchor="start" textLength="12.20" lengthAdjust="spacingAndGlyphs" >-10</text>
<text x="308.60" y="226.96" font-size="10.00" text-anchor="start" textLength="12.20" lengthAdjust="spacingAndGlyphs" >-10</text>
<text x="308.60" y="74.54" font-size="10.00" text-anchor="start" textLength="12.20" lengthAdjust="spacingAndGlyphs" >-20</text>
<text x="308.60" y="259.72" font-size="10.00" text-anchor="start" textLength="12.20" lengthAdjust="spacingAndGlyphs" >-20</text>
<text x="308.60" y="107.86" font-size="10.00" text-anchor="start" textLength="12.20" lengthAdjust="spacingAndGlyphs" >-30</text>
<text x="308.60" y="292.48" font-size="10.00" text-anchor="start" textLength="12.20" lengthAdjust="spacingAndGlyphs" >-30</text>
<text x="308.60" y="141.18" font-size="10.00" text-anchor="start" textLength="12.20" lengthAdjust="spacingAndGlyphs" >-40</text>
<text x="308.60" y="325.24" font-size="10.00" text-anchor="start" textLength="12.20" lengthAdjust="spacingAndGlyphs" >-40</text>
<text x="308.60" y="174.50" font-size="10.00" text-anchor="start" textLength="12.20" lengthAdjust="spacingAndGlyphs" >-50</text>
<text x="308.60" y="358.00" font-size="10.00" text-anchor="start" textLength="12.20" lengthAdjust="spacingAndGlyphs" >-50</text>
<text x="34.85" y="385.30" font-size="10.00" text-anchor="middle" textLength="18.40" lengthAdjust="spacingAndGlyphs" >1520</text>
<text x="94.12" y="385.30" font-size="10.00" text-anchor="middle" textLength="18.40" lengthAdjust="spacingAndGlyphs" >1530</text>
<text x="153.38" y="385.30" font-size="10.00" text-anchor="middle" textLength="18.40" lengthAdjust="spacingAndGlyphs" >1540</text>
<text x="212.65" y="385.30" font-size="10.00" text-anchor="middle" textLength="18.40" lengthAdjust="spacingAndGlyphs" >1550</text>
<text x="271.92" y="385.30" font-size="10.00" text-anchor="middle" textLength="18.40" lengthAdjust="spacingAndGlyphs" >1560</text>
<text x="128.00" y="401.20" font-size="10.40" text-anchor="start" textLength="78.80" lengthAdjust="spacingAndGlyphs" >Wavelength (nm)</text>
<text transform="translate(8.2 217.2) rotate(-90)" font-size="10.4" textLength="93.8" lengthAdjust="spacingAndGlyphs">Transmission (dBm)</text>
<text transform="translate(339.6 228.9) rotate(-90)" font-size="10.4" textLength="96.5" lengthAdjust="spacingAndGlyphs">Output power (dBm)</text>
<text x="42.80" y="20.90" font-size="11.50" text-anchor="start" textLength="12.90" lengthAdjust="spacingAndGlyphs" >(a)</text>
<text x="39.50" y="201.80" font-size="11.50" text-anchor="start" textLength="12.90" lengthAdjust="spacingAndGlyphs" >(b)</text>
<text x="109.90" y="23.90" font-size="9.40" text-anchor="start" textLength="12.40" lengthAdjust="spacingAndGlyphs" >&#916;&#955;</text>
<text x="122.40" y="24.40" font-size="9.20" text-anchor="start" textLength="42.20" lengthAdjust="spacingAndGlyphs" >= 10.95 nm</text>
<text x="115.20" y="213.70" font-size="9.40" text-anchor="start" textLength="12.50" lengthAdjust="spacingAndGlyphs" >&#916;&#955;</text>
<text x="127.30" y="213.80" font-size="9.20" text-anchor="start" textLength="37.60" lengthAdjust="spacingAndGlyphs" >= 6.75 nm</text>
<text x="240.90" y="15.20" font-size="7.40" text-anchor="start" textLength="47.20" lengthAdjust="spacingAndGlyphs" >Reshaped ASE</text>
<text x="240.90" y="23.60" font-size="7.40" text-anchor="start" textLength="47.80" lengthAdjust="spacingAndGlyphs" >Laser&#160; emission</text>
<text x="230.20" y="204.80" font-size="7.40" text-anchor="start" textLength="47.50" lengthAdjust="spacingAndGlyphs" >Reshaped ASE</text>
<text x="230.20" y="212.50" font-size="7.40" text-anchor="start" textLength="46.60" lengthAdjust="spacingAndGlyphs" >Laser emission</text>
<text x="224.80" y="41.00" font-size="8.70" text-anchor="start" textLength="63.30" lengthAdjust="spacingAndGlyphs" >Curvature: 2.94 m</text>
<text x="289.80" y="37.80" font-size="4.80" text-anchor="start" textLength="4.00" lengthAdjust="spacingAndGlyphs" >-1</text>
<text x="214.70" y="232.20" font-size="8.70" text-anchor="start" textLength="62.90" lengthAdjust="spacingAndGlyphs" >Curvature: 3.01 m</text>
<text x="279.40" y="228.80" font-size="4.80" text-anchor="start" textLength="3.60" lengthAdjust="spacingAndGlyphs" >-1</text>
</g>
<path d="M222.2 12.3H239.2" stroke="#808000" stroke-width="1.4" stroke-dasharray="3 1.1 1.1 1.1" fill="none"/>
<path d="M222.8 21.4H239.2" stroke="#000" stroke-width="1.5" fill="none"/>
<path d="M212.0 201.5H229.0" stroke="#808000" stroke-width="1.4" stroke-dasharray="3 1.1 1.1 1.1" fill="none"/>
<path d="M212.0 210.0H228.6" stroke="#000" stroke-width="1.5" fill="none"/>
<g fill="none" stroke="#000" stroke-width="1.5">
<ellipse cx="59.5" cy="73.7" rx="8.2" ry="3.5"/>
<ellipse cx="187.2" cy="136.3" rx="8.2" ry="3.4"/>
<ellipse cx="54.5" cy="259.6" rx="8.2" ry="3.5"/>
<ellipse cx="121.6" cy="325.4" rx="8.2" ry="3.6"/>
</g>
<path d="M43.00 73.20H51.30" stroke="#808080" stroke-width="1.00" fill="none"/>
<path d="M38.00 73.20L43.50 71.85L43.50 74.55Z" fill="#000"/>
<path d="M195.40 136.20H231.00" stroke="#808080" stroke-width="1.00" fill="none"/>
<path d="M235.80 136.20L230.00 134.80L230.00 137.60Z" fill="#000"/>
<path d="M45.00 256.00H46.40" stroke="#808080" stroke-width="1.00" fill="none"/>
<path d="M40.40 256.00L45.60 254.65L45.60 257.35Z" fill="#000"/>
<path d="M129.80 324.60H162.00" stroke="#808080" stroke-width="1.00" fill="none"/>
<path d="M166.80 324.60L161.30 323.20L161.30 326.00Z" fill="#000"/>
<path d="M107.00 31.20H170.00" stroke="#808080" stroke-width="1.30" fill="none"/>
<path d="M105.20 31.20L109.20 29.80L109.20 32.60Z" fill="#000"/>
<path d="M171.40 31.20L167.40 29.80L167.40 32.60Z" fill="#000"/>
<path d="M72.00 205.80H106.50" stroke="#808080" stroke-width="1.30" fill="none"/>
<path d="M70.30 205.80L74.30 204.40L74.30 207.20Z" fill="#000"/>
<path d="M108.40 205.80L104.40 204.40L104.40 207.20Z" fill="#000"/>
</svg>
</body></html>
